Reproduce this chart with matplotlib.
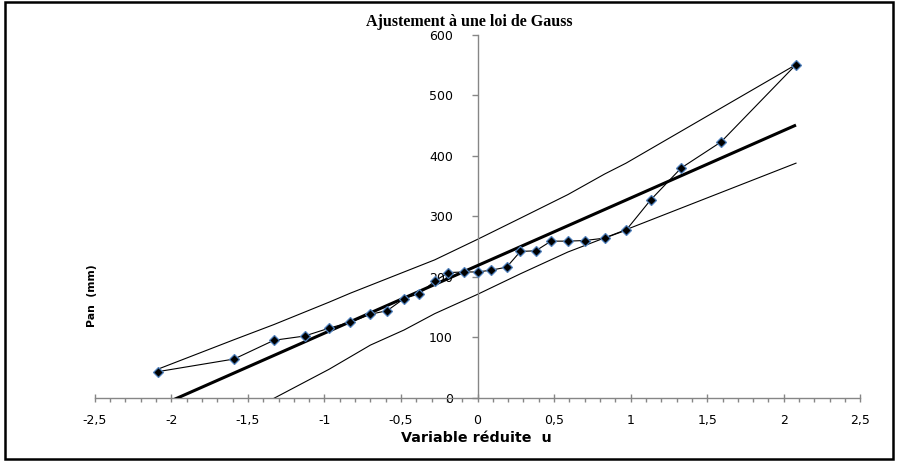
import matplotlib
matplotlib.use("Agg")
import matplotlib.pyplot as plt
from matplotlib.patches import Rectangle
from matplotlib.ticker import MultipleLocator, FixedLocator

# ---- data ----
u_obs = [-2.09, -1.59, -1.33, -1.13, -0.97, -0.83, -0.70, -0.59, -0.48, -0.38,
         -0.28, -0.19, -0.09, 0.00, 0.09, 0.19, 0.28, 0.38, 0.48, 0.59,
         0.70, 0.83, 0.97, 1.13, 1.33, 1.59, 2.08]
pan_obs = [43, 64, 95, 102, 115, 125, 138, 144, 164, 172,
           193, 207, 208, 208, 211, 216, 242, 243, 259, 259,
           260, 264, 277, 327, 380, 423, 551]

u_fit = [-2.09, 2.08]
pan_fit = [-15, 451]

u_up = [-2.09, -1.59, -1.33, -0.97, -0.83, -0.70, -0.28, 0.00, 0.28, 0.59, 0.83, 0.97, 2.08]
pan_up = [47, 96, 121, 158, 173, 186, 228, 262, 297, 336, 370, 388, 551]

u_low = [-2.09, -1.33, -0.97, -0.70, -0.48, -0.28, 0.00, 0.28, 0.59, 0.97, 2.08]
pan_low = [-100, -1, 47, 87, 112, 139, 171, 205, 241, 278, 388]

x_ticks = [-2.5, -2, -1.5, -1, -0.5, 0, 0.5, 1, 1.5, 2, 2.5]
x_tick_labels = ["-2,5", "-2", "-1,5", "-1", "-0,5", "0", "0,5", "1", "1,5", "2", "2,5"]
y_ticks = [0, 100, 200, 300, 400, 500, 600]

title = "Ajustement à une loi de Gauss"
xlabel = "Variable réduite  u"
ylabel = "Pan  (mm)"

# ---- figure ----
W, H = 899, 462
fig = plt.figure(figsize=(W / 100, H / 100), dpi=100)
fig.patch.set_facecolor("white")

def fx(px):
    return px / W

def fy(py):
    return 1 - py / H

left, right, top, bottom = 94.8, 860.3, 35.0, 397.7
ax = fig.add_axes([fx(left), fy(bottom), fx(right - left), (bottom - top) / H])
ax.set_facecolor("none")

ax.set_xlim(-2.5, 2.5)
ax.set_ylim(0, 600)

axis_col = "#868686"
ax.spines["top"].set_visible(False)
ax.spines["right"].set_visible(False)
ax.spines["left"].set_position(("data", 0))
for s in ("left", "bottom"):
    ax.spines[s].set_color(axis_col)
    ax.spines[s].set_linewidth(1.0)

ax.xaxis.set_major_locator(FixedLocator(x_ticks))
ax.set_xticklabels(x_tick_labels)
ax.xaxis.set_minor_locator(MultipleLocator(0.1))
ax.set_yticks(y_ticks)
ax.set_yticklabels([str(v) for v in y_ticks])

tick_font = "DejaVu Sans"
ax.tick_params(axis="x", which="major", direction="inout", length=6, width=1,
               color=axis_col, labelsize=9, pad=9)
ax.tick_params(axis="x", which="minor", direction="out", length=3, width=1,
               color=axis_col)
ax.tick_params(axis="y", which="major", direction="out", length=4.3, width=1,
               color=axis_col, labelsize=9, pad=13.5)
for lab in ax.get_xticklabels() + ax.get_yticklabels():
    lab.set_family(tick_font)

# bands
ax.plot(u_up, pan_up, color="black", lw=0.8, zorder=2)
ax.plot(u_low, pan_low, color="black", lw=0.8, zorder=2)
# fit line
ax.plot(u_fit, pan_fit, color="black", lw=2.2, zorder=3, solid_capstyle="butt")
# observations
ax.plot(u_obs, pan_obs, color="black", lw=0.8, marker="D", markersize=5,
        markerfacecolor="black", markeredgecolor="#4F81BD", markeredgewidth=0.9,
        zorder=4)

# texts
fig.text(fx(469), fy(22), title, ha="center", va="center",
         family="Liberation Serif", fontweight="bold", fontsize=11.5)
fig.text(fx(476), fy(438), xlabel, ha="center", va="center",
         family="DejaVu Sans", fontweight="bold", fontsize=10.3)
fig.text(fx(92), fy(296), ylabel, ha="center", va="center", rotation=90,
         family="DejaVu Sans", fontweight="bold", fontsize=7.8)

# outer border
fig.patches.append(Rectangle((fx(5), fy(459)), fx(888), (459 - 2) / H,
                             transform=fig.transFigure, fill=False,
                             edgecolor="black", linewidth=1.8, zorder=10))

fig.savefig("out.png", dpi=100)
